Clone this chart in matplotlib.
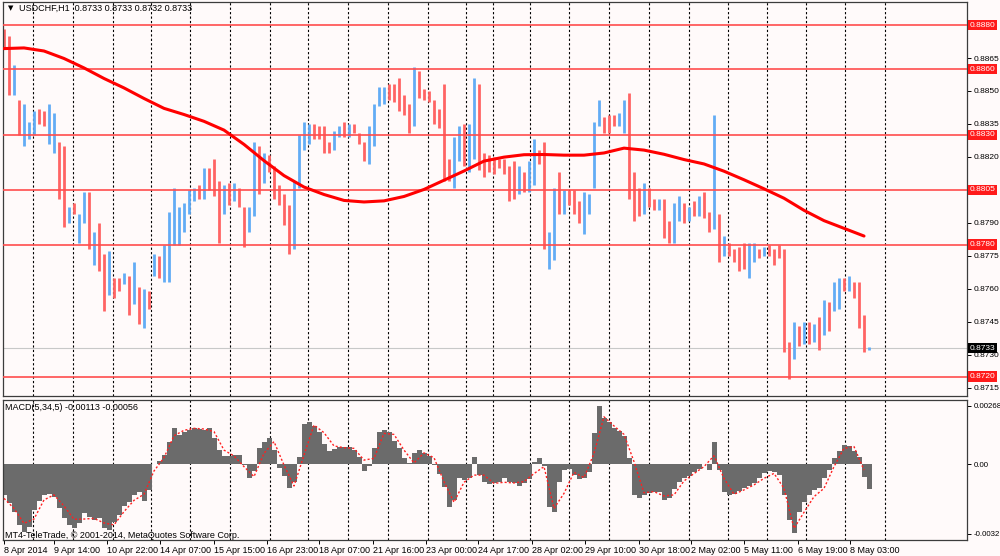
#!/usr/bin/env python3
"""
USDCHF H1 chart with SMA and MACD subpanel, MT4 style
"""

import numpy as np
import matplotlib
matplotlib.use("Agg")
import matplotlib.pyplot as plt
import matplotlib.transforms as mtransforms

# price bars, one per 3 hourly bars, in pips (0.8878 -> 8878)
highs = [
    8878, 8875, 8862, 8846, 8844, 8836, 8841, 8842, 8841, 8844,
    8840, 8827, 8825, 8797, 8799, 8794, 8804, 8804, 8786, 8790,
    8776, 8777, 8765, 8765, 8767, 8766, 8772, 8761, 8760, 8759,
    8776, 8775, 8780, 8795, 8806, 8797, 8799, 8805, 8806, 8807,
    8815, 8815, 8819, 8809, 8807, 8808, 8808, 8806, 8797, 8797,
    8827, 8825, 8822, 8821, 8816, 8807, 8803, 8798, 8809, 8830,
    8836, 8835, 8835, 8834, 8834, 8827, 8832, 8834, 8836, 8835,
    8835, 8831, 8827, 8834, 8844, 8852, 8852, 8853, 8853, 8856,
    8848, 8844, 8861, 8859, 8851, 8850, 8846, 8842, 8853, 8819,
    8829, 8834, 8835, 8835, 8856, 8853, 8822, 8821, 8820, 8819,
    8819, 8816, 8818, 8816, 8813, 8818, 8828, 8823, 8827, 8786,
    8806, 8813, 8805, 8805, 8805, 8800, 8804, 8803, 8836, 8846,
    8838, 8839, 8839, 8840, 8846, 8849, 8813, 8806, 8808, 8806,
    8801, 8801, 8801, 8791, 8799, 8802, 8799, 8797, 8800, 8802,
    8804, 8795, 8839, 8794, 8784, 8781, 8778, 8779, 8781, 8781,
    8781, 8778, 8779, 8780, 8778, 8780, 8778, 8736, 8745, 8743,
    8745, 8745, 8744, 8747, 8755, 8754, 8763, 8765, 8765, 8766,
    8763, 8763, 8748, 8733.5,
]
lows = [
    8869, 8848, 8848, 8830, 8825, 8828, 8830, 8835, 8834, 8826,
    8822, 8801, 8788, 8790, 8794, 8781, 8790, 8778, 8771, 8768,
    8750, 8757, 8756, 8759, 8762, 8748, 8753, 8744, 8742, 8751,
    8766, 8765, 8763, 8763, 8780, 8780, 8786, 8794, 8800, 8801,
    8801, 8805, 8802, 8781, 8794, 8798, 8800, 8797, 8779, 8786,
    8793, 8803, 8808, 8813, 8801, 8798, 8789, 8776, 8778, 8806,
    8823, 8826, 8828, 8828, 8822, 8822, 8823, 8829, 8829, 8829,
    8831, 8826, 8818, 8817, 8825, 8843, 8844, 8846, 8845, 8841,
    8839, 8831, 8834, 8847, 8846, 8845, 8835, 8833, 8809, 8809,
    8806, 8818, 8816, 8813, 8819, 8814, 8811, 8813, 8812, 8815,
    8812, 8800, 8801, 8803, 8804, 8804, 8807, 8817, 8778, 8769,
    8773, 8794, 8794, 8798, 8794, 8790, 8785, 8794, 8806, 8834,
    8831, 8831, 8834, 8834, 8831, 8801, 8791, 8793, 8794, 8797,
    8796, 8796, 8783, 8781, 8781, 8791, 8790, 8791, 8793, 8793,
    8792, 8786, 8787, 8772, 8775, 8775, 8772, 8768, 8769, 8765,
    8772, 8774, 8775, 8775, 8771, 8774, 8731, 8719, 8728, 8734,
    8735, 8735, 8736, 8732, 8739, 8741, 8750, 8751, 8759, 8759,
    8756, 8742, 8731, 8732,
]
# u = bull bar, d = bear bar
direction = ("dduduuuddu" "udduduudud" "duddududud" "uduuuuuuud"
             "udddududdu" "ududdddduu" "uudddduudu" "ddduuuuddd"
             "dduddddddd" "uuduuddddd" "ddduduuddu" "ududdduuuu"
             "ddduudddud" "dudduududu" "ddududdddu" "ududddddud"
             "udududuudu" "dddu")

# moving average, every 4th bar
ma_values = [
    8869.3, 8869.6, 8868.2, 8864.8, 8860.5, 8855.7, 8851.4, 8846.6, 8842.1, 8839.3,
    8836.2, 8832.2, 8825.7, 8818.3, 8811.5, 8806.3, 8802.9, 8800.2, 8799.5, 8800.0,
    8802.0, 8805.2, 8809.4, 8813.6, 8818.1, 8819.9, 8821.0, 8821.1, 8820.8, 8820.8,
    8821.8, 8824.0, 8823.1, 8821.2, 8818.8, 8816.8, 8813.5, 8809.6, 8805.5, 8801.2,
    8795.7, 8791.0, 8787.5, 8784.0,
]

# MACD histogram (x 1e-3), one per bar
macd_hist = [
    -1.42, -1.81, -2.19, -2.80, -3.11, -2.88, -2.11, -1.70, -1.42, -1.39,
    -1.50, -2.04, -2.50, -2.80, -2.96, -2.73, -2.27, -2.42, -2.57, -2.47,
    -2.96, -3.03, -2.68, -2.34, -1.91, -1.76, -1.42, -1.27, -1.70, -1.19,
    -0.02, 0.14, 0.41, 1.03, 1.64, 1.33, 1.49, 1.56, 1.64, 1.61,
    1.56, 1.67, 1.18, 0.64, 0.37, 0.38, 0.41, 0.41, -0.05, -0.66,
    -0.32, 0.75, 1.03, 1.21, 0.64, -0.20, -0.55, -1.12, -0.81, 0.34,
    1.82, 1.91, 1.75, 1.45, 0.90, 0.61, 0.69, 0.80, 0.80, 0.78,
    0.64, 0.34, -0.32, -0.08, 0.72, 1.45, 1.56, 1.45, 1.06, 0.72,
    0.26, 0.03, 0.49, 0.63, 0.49, 0.38, -0.05, -0.46, -1.04, -1.96,
    -1.65, -0.66, -0.74, -0.66, 0.34, -0.51, -0.81, -0.90, -0.89, -0.81,
    -0.66, -0.81, -0.86, -1.01, -0.89, -0.69, 0.11, 0.28, -0.08, -1.96,
    -2.19, -0.84, -0.28, -0.25, -0.51, -0.69, -0.66, -0.35, 1.41, 2.65,
    2.10, 1.91, 1.67, 1.53, 1.30, 0.26, -1.42, -1.55, -1.42, -1.35,
    -1.27, -1.27, -1.65, -1.58, -1.15, -0.84, -0.66, -0.55, -0.38, -0.23,
    -0.02, -0.28, 1.03, -0.28, -1.27, -1.42, -1.36, -1.24, -1.12, -1.00,
    -0.89, -0.66, -0.43, -0.32, -0.38, -0.51, -1.42, -2.57, -3.15, -2.19,
    -1.73, -1.42, -1.19, -1.09, -0.66, -0.28, 0.29, 0.60, 0.87, 0.84,
    0.60, 0.34, -0.58, -1.13,
]
# MACD signal (x 1e-3), every 2nd bar
macd_signal = [
    -1.58, -2.04, -2.73, -2.53, -1.65, -1.42, -1.93, -2.54, -2.53, -2.50,
    -2.71, -2.80, -2.19, -1.67, -1.39, -0.32, 0.29, 1.30, 1.55, 1.64,
    1.61, 1.49, 0.64, 0.37, -0.12, -0.58, 0.49, 1.03, -0.05, -1.01,
    0.41, 1.79, 1.44, 0.83, 0.75, 0.72, 0.18, 0.26, 1.41, 1.36,
    0.64, 0.05, 0.51, 0.29, -0.81, -1.76, -0.84, -0.51, -0.51, -0.89,
    -0.84, -0.87, -0.81, -0.44, -0.12, -2.04, -1.35, -0.38, -0.63, 0.49,
    2.17, 1.75, 1.36, 0.11, -1.32, -1.27, -1.47, -1.42, -0.78, -0.44,
    -0.12, 0.38, -0.66, -1.39, -1.19, -0.96, -0.66, -0.43, -1.12, -2.96,
    -2.22, -1.50, -1.12, -0.12, 0.72, 0.80, -0.28,
]

level_lines = [0.8880, 0.8860, 0.8830, 0.8805, 0.8780, 0.8720]
last_price = 0.8733
price_ticks = [0.8715, 0.8730, 0.8745, 0.8760, 0.8775, 0.8790, 0.8805,
               0.8820, 0.8835, 0.8850, 0.8865, 0.8880]

time_labels = ["8 Apr 2014", "9 Apr 14:00", "10 Apr 22:00", "14 Apr 07:00",
               "15 Apr 15:00", "16 Apr 23:00", "18 Apr 07:00", "21 Apr 16:00",
               "23 Apr 00:00", "24 Apr 17:00", "28 Apr 02:00", "29 Apr 10:00",
               "30 Apr 18:00", "2 May 02:00", "5 May 11:00", "6 May 19:00",
               "8 May 03:00"]
time_label_bars = [-0.06, 9.94, 20.6, 31.26, 41.94, 52.6, 63.06, 73.74, 84.4,
                   94.86, 105.6, 116.26, 126.94, 137.4, 148.06, 158.74, 169.26]
day_sep_bars = [5.86, 13.86, 21.74, 29.4, 37.26, 45.26, 53.26, 60.86, 68.86,
                76.74, 84.74, 92.4, 97.74, 105.2, 113.06, 120.94, 128.94,
                136.94, 144.74, 152.54, 160.4, 168.26, 176.26]

BG = '#fffafa'
UP = '#62acf5'
DOWN = '#ff6464'
FS = 6

plt.rcParams['font.family'] = ['Liberation Sans', 'DejaVu Sans']

fig = plt.figure(figsize=(10, 5.56), dpi=100, facecolor=BG)
W, H = 1000.0, 556.0
ax = fig.add_axes([3 / W, 1 - 396 / H, 964 / W, 394 / H], facecolor=BG)
ax2 = fig.add_axes([3 / W, 1 - 540 / H, 964 / W, 140 / H], facecolor=BG)

xs = np.arange(len(highs))
hi = np.array(highs) / 10000.0
lo = np.array(lows) / 10000.0
cols = [UP if d == 'u' else DOWN for d in direction]

for a in (ax, ax2):
    a.set_xlim(-0.2, 192.6)
    for xv in day_sep_bars:
        a.axvline(xv, color='black', lw=0.8, ls=(0, (2, 2)), zorder=0)
    for s in a.spines.values():
        s.set_color('#3c3c3c')
        s.set_linewidth(0.9)
    a.yaxis.tick_right()
    a.tick_params(axis='y', direction='out', length=3, width=0.7, pad=1.5,
                  labelsize=FS, colors='black')

# price panel
ax.vlines(xs, lo, hi, colors=cols, linewidth=2.0, zorder=2)
ma_x = np.arange(0, len(highs), 4)
ax.plot(ma_x, np.array(ma_values) / 10000.0, color='#ff0000', lw=2.2,
        zorder=4, solid_capstyle='round')
ax.axhline(last_price, color='#c8c8c8', lw=0.8, zorder=1)
for lv in level_lines:
    ax.axhline(lv, color='#ff4d4d', lw=1.2, zorder=3)

ax.set_ylim(0.87112, 0.88905)
ax.set_yticks(price_ticks)
# labels hidden where a level box sits on top of them
ax.set_yticklabels(['' if any(abs(p - lv) < 1e-6 for lv in level_lines)
                    else f"{p:.4f}" for p in price_ticks])
ax.set_xticks([])

trans = mtransforms.blended_transform_factory(ax.transAxes, ax.transData)
for lv in level_lines:
    ax.text(1.0028, lv, f"{lv:.4f}", transform=trans, ha='left', va='center',
            fontsize=FS, color='white', zorder=10, clip_on=False,
            bbox=dict(boxstyle='square,pad=0.22', fc='#ff1a1a', ec='none'))
ax.text(1.0028, last_price, f"{last_price:.4f}", transform=trans, ha='left',
        va='center', fontsize=FS, color='white', zorder=10, clip_on=False,
        bbox=dict(boxstyle='square,pad=0.22', fc='black', ec='none'))

ax.text(8 / 964, 1 - 6 / 394, "\u25bc", transform=ax.transAxes, fontsize=5,
        ha='center', va='center', color='black', family='DejaVu Sans')
ax.text(16 / 964, 1 - 6 / 394, "USDCHF,H1  0.8733 0.8733 0.8732 0.8733",
        transform=ax.transAxes, fontsize=FS + 0.5, ha='left', va='center')

# MACD panel
ax2.bar(xs, np.array(macd_hist) / 1000.0, width=1.0, color='#6b6b6b',
        linewidth=0, zorder=2)
sig_x = np.arange(0, len(highs), 2)
ax2.plot(sig_x, np.array(macd_signal) / 1000.0, color='#ff2020', lw=1.0,
         ls=(0, (1.5, 1.5)), zorder=3)
ax2.set_ylim(-0.003494, 0.002943)
ax2.set_yticks([0.00268, 0.0, -0.00321])
ax2.set_yticklabels(['0.00268', '0.00', '-0.00321'])
ax2.tick_params(axis='y', labelsize=FS - 0.3)
ax2.set_xticks(time_label_bars)
ax2.set_xticklabels(time_labels)
ax2.tick_params(axis='x', direction='out', length=3, width=0.7, pad=1,
                labelsize=FS + 0.5, colors='black')
for lab in ax2.get_xticklabels():
    lab.set_horizontalalignment('left')

ax2.text(2 / 964, 1 - 7 / 140, "MACD(5,34,5) -0.00113 -0.00056",
         transform=ax2.transAxes, fontsize=FS + 0.5, ha='left', va='center')
ax2.text(2 / 964, 5 / 140,
         "MT4-TeleTrade, \u00a9 2001-2014, MetaQuotes Software Corp.",
         transform=ax2.transAxes, fontsize=FS + 0.5, ha='left', va='center')

fig.savefig('out.png', dpi=100, facecolor=BG)
